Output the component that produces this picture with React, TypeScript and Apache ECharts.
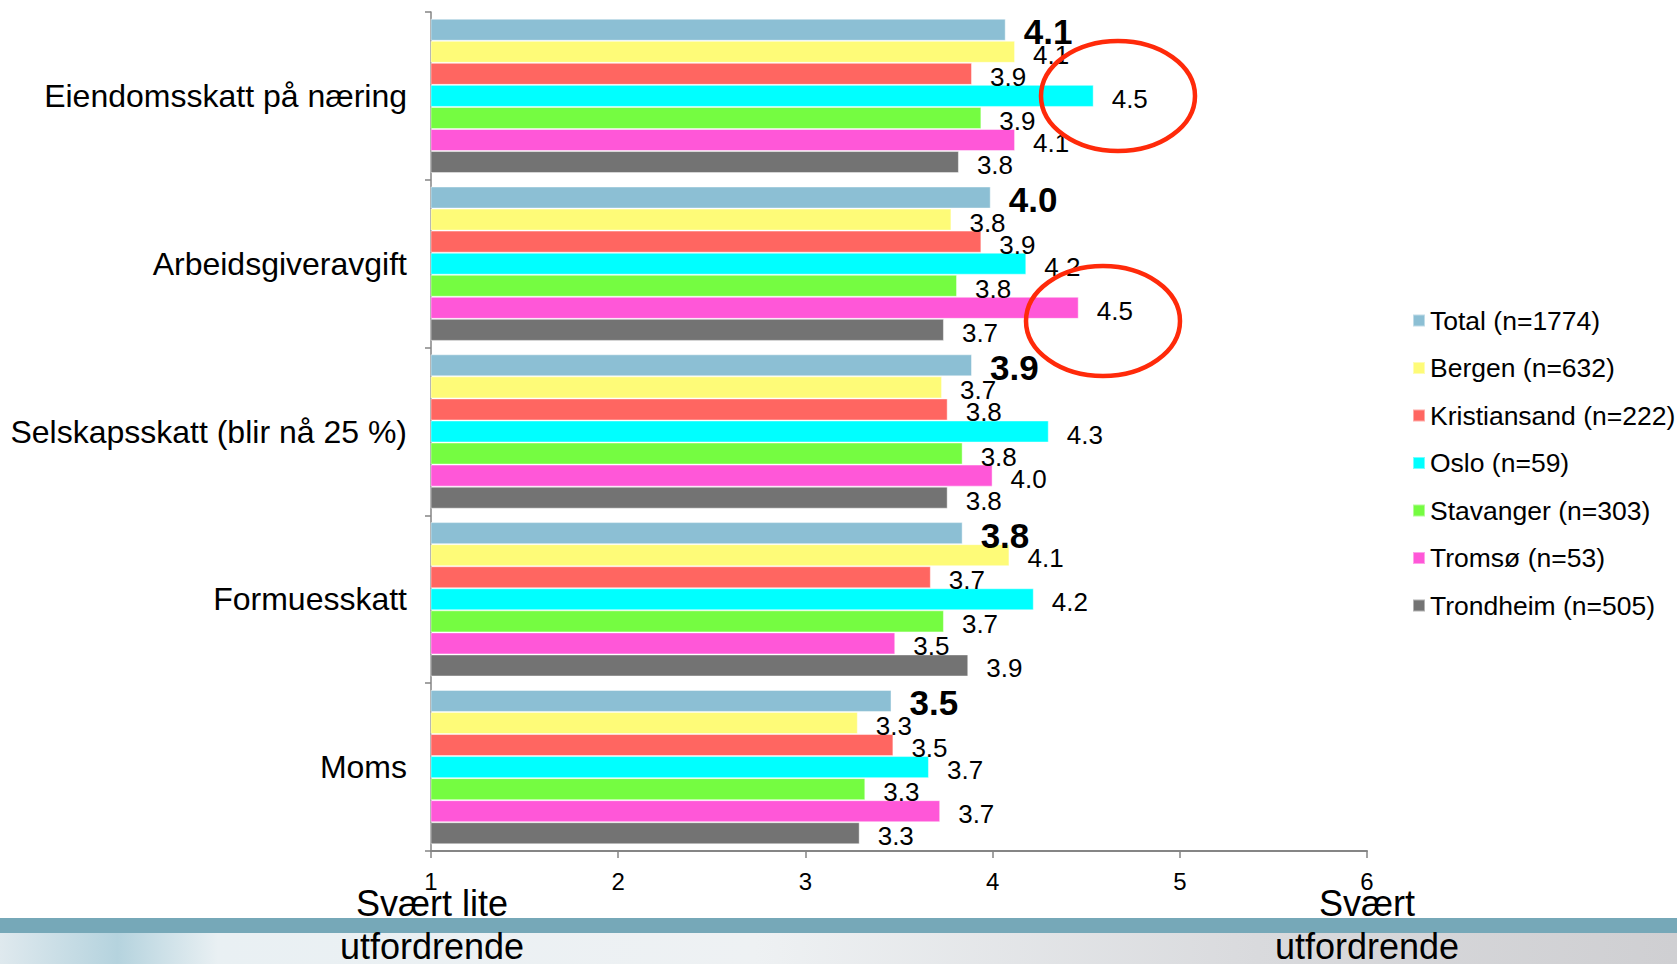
import React, { useEffect, useRef } from "react";
import * as echarts from "echarts";

const categories = [
  "Eiendomsskatt på næring",
  "Arbeidsgiveravgift",
  "Selskapsskatt (blir nå 25 %)",
  "Formuesskatt",
  "Moms",
];

const seriesNames = [
  "Total (n=1774)",
  "Bergen (n=632)",
  "Kristiansand (n=222)",
  "Oslo (n=59)",
  "Stavanger (n=303)",
  "Tromsø (n=53)",
  "Trondheim (n=505)",
];

const total = [4.07, 3.99, 3.89, 3.84, 3.46];
const bergen = [4.12, 3.78, 3.73, 4.09, 3.28];
const kristiansand = [3.89, 3.94, 3.76, 3.67, 3.47];
const oslo = [4.54, 4.18, 4.3, 4.22, 3.66];
const stavanger = [3.94, 3.81, 3.84, 3.74, 3.32];
const tromso = [4.12, 4.46, 4.0, 3.48, 3.72];
const trondheim = [3.82, 3.74, 3.76, 3.87, 3.29];

const seriesValues = [total, bergen, kristiansand, oslo, stavanger, tromso, trondheim];

const colors = ["#8cbfd4", "#fefb78", "#ff6661", "#00ffff", "#75fc41", "#ff57d8", "#737373"];

const xTicks = [1, 2, 3, 4, 5, 6];

const FONT = "'Liberation Sans', Arial, Helvetica, sans-serif";

export default function App() {
  const ref = useRef<HTMLDivElement>(null);

  useEffect(() => {
    if (!ref.current) return;
    const chart = echarts.init(ref.current, undefined, { renderer: "svg" });
    const option: any = {
      animation: false,
      backgroundColor: "#ffffff",
      textStyle: { fontFamily: FONT },
      grid: { left: 431, right: 310, top: 12, bottom: 113, containLabel: false },
      legend: {
        orient: "vertical",
        left: 1407,
        top: 302,
        itemWidth: 12,
        itemHeight: 12,
        itemGap: 20.5,
        icon: "rect",
        data: seriesNames,
        textStyle: { fontSize: 26.5, color: "#000", fontFamily: FONT },
      },
      xAxis: {
        type: "value",
        min: xTicks[0],
        max: xTicks[xTicks.length - 1],
        interval: 1,
        axisLine: { show: true, lineStyle: { color: "#858585", width: 2 } },
        axisTick: { show: true, length: 7, lineStyle: { color: "#858585", width: 1.5 } },
        splitLine: { show: false },
        axisLabel: { fontSize: 24, color: "#000", margin: 18, fontFamily: FONT },
      },
      yAxis: {
        type: "category",
        inverse: true,
        data: categories,
        axisLine: { show: true, lineStyle: { color: "#858585", width: 1.5 } },
        axisTick: { show: true, length: 6, lineStyle: { color: "#858585", width: 1.5 } },
        axisLabel: { fontSize: 32, color: "#000", margin: 24, fontFamily: FONT },
      },
      series: seriesNames.map((name, i) => ({
        name,
        type: "bar",
        data: seriesValues[i],
        barGap: "0%",
        barCategoryGap: "8%",
        itemStyle: { color: colors[i], borderColor: "rgba(255,255,255,0.45)", borderWidth: 1 },
        label: {
          show: true,
          position: "right",
          distance: 18,
          offset: [0, i === 0 ? 2 : 3],
          formatter: (p: any) => Number(p.value).toFixed(1),
          fontSize: i === 0 ? 35 : 26,
          fontWeight: i === 0 ? "bold" : "normal",
          color: "#000",
          fontFamily: FONT,
        },
      })),
      graphic: [
        {
          type: "rect",
          shape: { x: 0, y: 918, width: 1677, height: 15 },
          style: { fill: "#76a8b8" },
          z: 1,
        },
        {
          type: "rect",
          shape: { x: 0, y: 933, width: 1677, height: 31 },
          style: {
            fill: new echarts.graphic.LinearGradient(0, 0, 1, 0, [
              { offset: 0, color: "#dfe9ee" },
              { offset: 0.07, color: "#b5d3de" },
              { offset: 0.13, color: "#e9f0f3" },
              { offset: 0.45, color: "#eef1f3" },
              { offset: 0.75, color: "#d9dadd" },
              { offset: 1, color: "#cfcfd2" },
            ]),
          },
          z: 1,
        },
        {
          type: "text",
          x: 432,
          y: 882,
          style: {
            text: "Svært lite\nutfordrende",
            fontSize: 36,
            lineHeight: 43,
            fill: "#000",
            align: "center",
            fontFamily: FONT,
          },
          z: 10,
        },
        {
          type: "text",
          x: 1367,
          y: 882,
          style: {
            text: "Svært\nutfordrende",
            fontSize: 36,
            lineHeight: 43,
            fill: "#000",
            align: "center",
            fontFamily: FONT,
          },
          z: 10,
        },
        {
          type: "ellipse",
          shape: { cx: 1118, cy: 96, rx: 77, ry: 55 },
          style: { fill: "none", stroke: "#ff2a0a", lineWidth: 4.5 },
          z: 20,
        },
        {
          type: "ellipse",
          shape: { cx: 1103, cy: 321, rx: 77, ry: 55 },
          style: { fill: "none", stroke: "#ff2a0a", lineWidth: 4.5 },
          z: 20,
        },
      ],
    };
    chart.setOption(option);
    return () => chart.dispose();
  }, []);

  return (
    <div
      ref={ref}
      style={{ position: "fixed", left: 0, top: 0, width: 1677, height: 964 }}
    />
  );
}
